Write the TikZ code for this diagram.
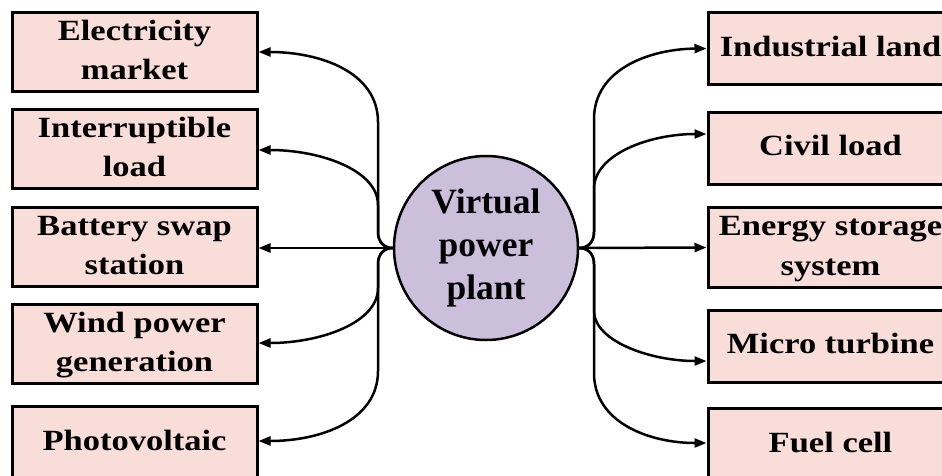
\documentclass[tikz,border=0pt]{standalone}
\usepackage{fontspec}
\usepackage{graphicx}
\setmainfont{Liberation Serif}
\usetikzlibrary{arrows.meta}
\definecolor{boxpink}{RGB}{249,221,217}
\definecolor{vpplil}{RGB}{204,191,220}
\newcommand{\boxtxt}[1]{\scalebox{1}[0.85]{\fontsize{34.5}{47}\selectfont\bfseries\begin{tabular}{@{}c@{}}#1\end{tabular}}}
\newcommand{\circtxt}[1]{\raisebox{-3pt}{\fontsize{35.5}{43}\selectfont\bfseries\begin{tabular}{@{}c@{}}#1\end{tabular}}}
\tikzset{
  unitbox/.style={draw=black, line width=3pt, fill=boxpink, minimum width=245pt, minimum height=72pt, inner sep=0pt},
  vppcirc/.style={circle, draw=black, line width=2.5pt, fill=vpplil, minimum size=184pt, inner sep=0pt},
  arr/.style={line width=2.5pt, -{Triangle[length=12pt,width=9pt]}}
}
\begin{document}
\begin{tikzpicture}[x=1pt,y=-1pt]
\clip (0,0) rectangle (942,475);
\fill[white] (0,0) rectangle (942,475);
% left boxes
\node[unitbox] (l1) at (134.5,52) {\boxtxt{Electricity\\market}};
\node[unitbox] (l2) at (134.5,149) {\boxtxt{Interruptible\\load}};
\node[unitbox] (l3) at (134.5,247) {\boxtxt{Battery swap\\station}};
\node[unitbox] (l4) at (134.5,344) {\boxtxt{Wind power\\generation}};
\node[unitbox] (l5) at (134.5,442) {\boxtxt{Photovoltaic}};
% right boxes
\node[unitbox] (r1) at (830.5,48.5) {\boxtxt{Industrial land}};
\node[unitbox] (r2) at (830.5,148) {\boxtxt{Civil load}};
\node[unitbox] (r3) at (830.5,247.5) {\boxtxt{Energy storage\\system}};
\node[unitbox] (r4) at (830.5,346) {\boxtxt{Micro turbine}};
\node[unitbox] (r5) at (830.5,444) {\boxtxt{Fuel cell}};
% centre
\node[vppcirc] (c) at (486,248) {\circtxt{Virtual\\power\\plant}};
% left connectors
\draw[arr] (c.west) .. controls (384,248) and (378,242) .. (378,232) -- (378,122) .. controls (378,72) and (320,52) .. (l1.east);
\draw[arr] (c.west) .. controls (384,248) and (378,242) .. (378,232) -- (378,205) .. controls (378,170) and (320,150) .. ([yshift=-1pt]l2.east);
\draw[arr] (c.west) -- ([yshift=-1pt]l3.east);
\draw[arr] (c.west) .. controls (384,248) and (378,254) .. (378,264) -- (378,288) .. controls (378,323) and (320,343) .. ([yshift=1pt]l4.east);
\draw[arr] (c.west) .. controls (384,248) and (378,254) .. (378,264) -- (378,371) .. controls (378,421) and (320,441) .. ([yshift=1pt]l5.east);
% right connectors
\draw[arr] (c.east) .. controls (588,248) and (594,242) .. (594,232) -- (594,119) .. controls (594,69) and (650,49) .. (r1.west);
\draw[arr] (c.east) .. controls (588,248) and (594,242) .. (594,232) -- (594,189) .. controls (594,154) and (650,134) .. ([yshift=14pt]r2.west);
\draw[arr] (c.east) -- (r3.west);
\draw[arr] (c.east) .. controls (588,248) and (594,254) .. (594,264) -- (594,311) .. controls (594,341) and (650,361) .. ([yshift=-15pt]r4.west);
\draw[arr] (c.east) .. controls (588,248) and (594,254) .. (594,264) -- (594,373) .. controls (594,423) and (650,443) .. ([yshift=1pt]r5.west);
\end{tikzpicture}
\end{document}
